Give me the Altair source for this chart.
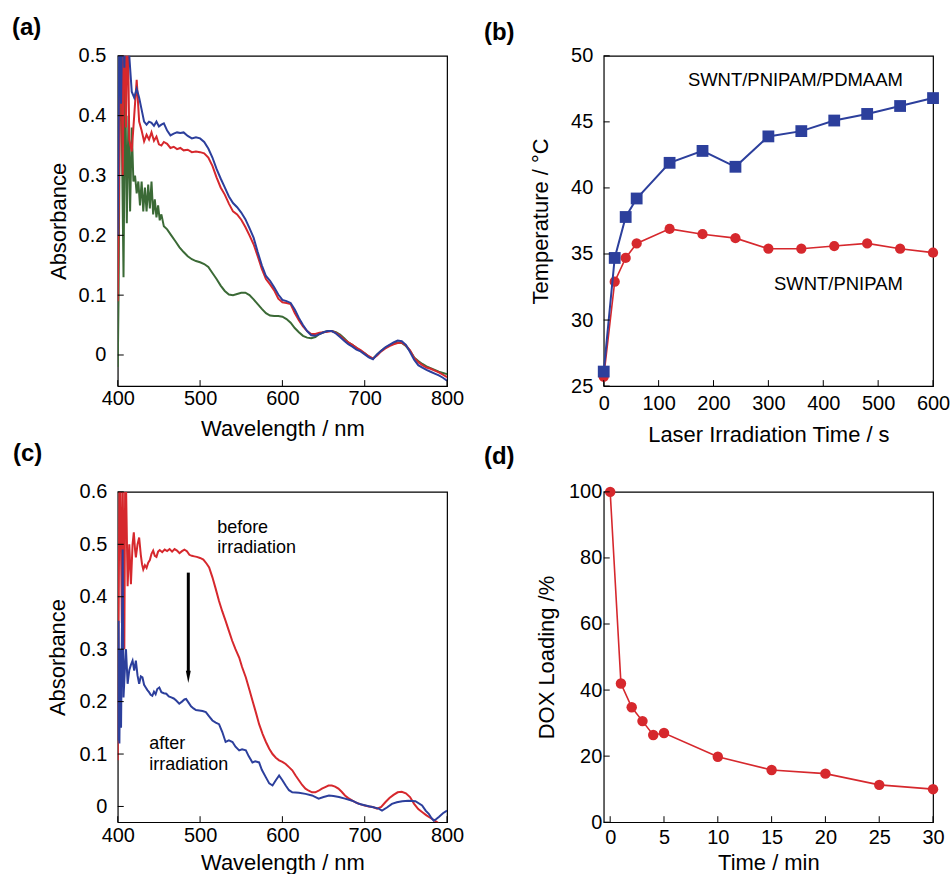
import altair as alt
import pandas as pd

FONT = "Liberation Sans"
RED = "#d6282d"
BLUE = "#2c3f9c"
GREEN = "#3b6a36"

# ---------------- panel (a) data ----------------
wl_a = [400, 402, 404, 406, 408, 410, 412, 414, 417, 420, 423, 426, 429, 432, 435, 438, 441, 444, 447, 450,
        453, 456, 460, 464, 468, 472, 476, 480, 485, 490, 495, 500, 505, 510, 515, 520, 525, 530, 535, 540,
        545, 550, 555, 560, 565, 570, 575, 580, 585, 590, 595, 600, 605, 610, 615, 620, 625, 630, 635, 640,
        645, 650, 655, 660, 665, 670, 675, 680, 685, 690, 695, 700, 705, 710, 715, 720, 725, 730, 735, 740,
        745, 750, 755, 760, 765, 770, 775, 780, 785, 790, 795, 800]
abs_a_blue = [0.20, 0.55, 0.42, 0.60, 0.48, 0.62, 0.55, 0.50, 0.44, 0.43, 0.445, 0.43, 0.41, 0.39, 0.385, 0.39,
              0.388, 0.383, 0.39, 0.382, 0.385, 0.387, 0.375, 0.367, 0.370, 0.372, 0.371, 0.372, 0.366, 0.362,
              0.364, 0.362, 0.356, 0.345, 0.330, 0.311, 0.295, 0.280, 0.265, 0.254, 0.247, 0.238, 0.227, 0.212,
              0.196, 0.172, 0.150, 0.132, 0.124, 0.113, 0.101, 0.092, 0.090, 0.087, 0.076, 0.062, 0.050, 0.040,
              0.033, 0.032, 0.035, 0.038, 0.040, 0.040, 0.036, 0.030, 0.024, 0.018, 0.014, 0.009, 0.006, 0.001,
              -0.004, -0.007, 0.001, 0.007, 0.013, 0.017, 0.021, 0.024, 0.023, 0.017, 0.005, -0.008, -0.017,
              -0.021, -0.025, -0.028, -0.031, -0.034, -0.038, -0.043]
abs_a_red = [0.09, 0.35, 0.62, 0.30, 0.60, 0.38, 0.58, 0.36, 0.34, 0.40, 0.46, 0.39, 0.375, 0.357, 0.368, 0.36,
             0.372, 0.358, 0.365, 0.352, 0.350, 0.356, 0.353, 0.346, 0.348, 0.344, 0.346, 0.342, 0.343, 0.339,
             0.340, 0.339, 0.337, 0.330, 0.316, 0.297, 0.280, 0.268, 0.253, 0.240, 0.235, 0.226, 0.214, 0.200,
             0.185, 0.165, 0.144, 0.127, 0.118, 0.108, 0.094, 0.088, 0.087, 0.085, 0.070, 0.058, 0.048, 0.040,
             0.035, 0.035, 0.037, 0.038, 0.039, 0.040, 0.037, 0.032, 0.026, 0.021, 0.017, 0.012, 0.008, 0.003,
             -0.002, -0.006, -0.001, 0.006, 0.011, 0.015, 0.018, 0.020, 0.021, 0.016, 0.008, -0.005, -0.012,
             -0.017, -0.021, -0.023, -0.026, -0.029, -0.033, -0.037]
wl_a_green = [400, 401, 403, 405, 407, 409, 411, 413, 415, 417, 419, 421, 423, 425, 427, 429, 431, 433, 435, 437,
              439, 441, 443, 445, 447, 449, 451, 453, 456, 460, 465, 470, 475, 480, 485, 490, 495, 500, 505, 510,
              515, 520, 525, 530, 535, 540, 545, 550, 555, 560, 565, 570, 575, 580, 585, 590, 595, 600, 605, 610,
              615, 620, 625, 630, 635, 640, 645, 650, 655, 660, 665, 670, 675, 680, 685, 690, 695, 700, 705, 710,
              715, 720, 725, 730, 735, 740, 745, 750, 755, 760, 765, 770, 775, 780, 785, 790, 795, 800]
abs_a_green = [-0.02, 0.10, 0.55, 0.37, 0.13, 0.48, 0.22, 0.40, 0.24, 0.38, 0.29, 0.30, 0.27, 0.29, 0.25, 0.29,
               0.24, 0.28, 0.24, 0.285, 0.245, 0.29, 0.235, 0.26, 0.23, 0.25, 0.225, 0.235, 0.215, 0.21, 0.20,
               0.19, 0.18, 0.172, 0.165, 0.160, 0.157, 0.155, 0.152, 0.147, 0.137, 0.127, 0.116, 0.107, 0.101,
               0.100, 0.102, 0.104, 0.104, 0.100, 0.093, 0.085, 0.077, 0.070, 0.066, 0.065, 0.065, 0.064, 0.060,
               0.054, 0.045, 0.038, 0.032, 0.029, 0.028, 0.030, 0.035, 0.038, 0.040, 0.040, 0.038, 0.034, 0.028,
               0.021, 0.017, 0.012, 0.007, 0.003, -0.003, -0.006, 0.001, 0.007, 0.012, 0.016, 0.019, 0.021,
               0.020, 0.015, 0.007, -0.004, -0.010, -0.015, -0.019, -0.022, -0.025, -0.028, -0.030, -0.032]

# ---------------- panel (b) data ----------------
time_b = [0, 20, 40, 60, 120, 180, 240, 300, 360, 420, 480, 540, 600]
temp_b_pdmaam = [26.1, 34.7, 37.8, 39.2, 41.9, 42.8, 41.6, 43.9, 44.3, 45.1, 45.6, 46.2, 46.8]
temp_b_pnipam = [25.7, 32.9, 34.7, 35.8, 36.9, 36.5, 36.2, 35.4, 35.4, 35.6, 35.8, 35.4, 35.1]
labels_b = ["SWNT/PNIPAM/PDMAAM", "SWNT/PNIPAM"]
labels_b_x = [545, 545]
labels_b_y = [48.2, 32.75]

# ---------------- panel (c) data ----------------
wl_c_red = [400, 402, 403, 405, 406, 408, 409, 410, 412, 414, 416, 418, 419.5, 421, 422, 424, 426, 428, 429.5,
            431, 433, 435, 437, 439, 441, 443, 445, 447, 449, 451, 454, 457, 460, 463, 466, 469, 472, 475, 478,
            481, 484, 487, 490, 493, 496, 500, 504, 508, 511, 515, 519, 523, 527, 531, 535, 539, 543, 547.5,
            551, 555.6, 560, 563.6, 568, 571.7, 576, 580, 584, 588, 592, 596, 600, 604, 608, 612, 616, 620,
            624, 628, 632, 636, 640, 644, 648, 652, 656, 660, 664, 668, 672, 676, 680, 685, 690, 695, 700, 705,
            710, 715, 720, 725, 730, 735, 740, 745, 750, 755, 760, 765, 770, 775, 780, 785, 790]
abs_c_red = [0.088, 0.60, 0.62, 0.35, 0.62, 0.30, 0.62, 0.62, 0.42, 0.50, 0.424, 0.50, 0.523, 0.49, 0.475, 0.50,
             0.513, 0.48, 0.462, 0.452, 0.46, 0.455, 0.465, 0.470, 0.482, 0.488, 0.478, 0.476, 0.486, 0.489,
             0.485, 0.490, 0.487, 0.491, 0.486, 0.491, 0.488, 0.483, 0.487, 0.490, 0.487, 0.480, 0.478, 0.477,
             0.476, 0.474, 0.471, 0.463, 0.456, 0.437, 0.415, 0.392, 0.372, 0.354, 0.335, 0.316, 0.300, 0.284,
             0.266, 0.246, 0.222, 0.202, 0.178, 0.157, 0.138, 0.123, 0.110, 0.100, 0.093, 0.088, 0.085, 0.081,
             0.075, 0.069, 0.059, 0.050, 0.041, 0.034, 0.030, 0.027, 0.027, 0.030, 0.034, 0.037, 0.040, 0.040,
             0.038, 0.034, 0.028, 0.021, 0.016, 0.011, 0.007, 0.004, 0.002, 0.000, -0.001, -0.004, -0.001, 0.008,
             0.016, 0.022, 0.027, 0.028, 0.025, 0.018, 0.005, -0.005, -0.011, -0.017, -0.022, -0.027, -0.032]
wl_c_blue = [400, 401, 402, 403, 404, 405, 406, 407, 409, 410, 412, 414, 416, 418, 420, 422, 424, 426, 428, 430,
             432, 434, 436, 438, 440, 442, 444, 446, 448, 450.5, 453, 456, 459, 462, 465, 468, 471, 474.7, 478,
             481, 483, 486, 489, 492, 495, 499, 503, 507, 511, 515, 519, 523, 527, 531, 535, 539.4, 543, 547.5,
             551, 555.6, 559, 563.6, 567, 571.7, 575, 579.8, 584, 588, 592, 596, 600, 604, 608, 612, 620, 628,
             636, 644, 650, 656.6, 662, 668.7, 676, 684.8, 692.9, 701, 709, 717, 721, 727, 733, 739, 745.5, 753,
             761.6, 769.7, 774, 777.8, 781, 783.8, 787, 790, 795, 800]
abs_c_blue = [0.126, 0.354, 0.12, 0.30, 0.15, 0.32, 0.49, 0.208, 0.272, 0.30, 0.234, 0.26, 0.27, 0.278, 0.259,
              0.278, 0.25, 0.234, 0.248, 0.246, 0.232, 0.227, 0.222, 0.218, 0.213, 0.211, 0.219, 0.214, 0.224,
              0.227, 0.218, 0.216, 0.215, 0.210, 0.208, 0.206, 0.202, 0.196, 0.200, 0.204, 0.205, 0.198, 0.191,
              0.187, 0.184, 0.183, 0.182, 0.180, 0.172, 0.164, 0.160, 0.157, 0.142, 0.123, 0.126, 0.123, 0.114,
              0.107, 0.109, 0.107, 0.096, 0.084, 0.086, 0.084, 0.070, 0.056, 0.044, 0.040, 0.050, 0.059, 0.050,
              0.040, 0.031, 0.027, 0.026, 0.024, 0.021, 0.015, 0.018, 0.021, 0.020, 0.018, 0.015, 0.011, 0.005,
              0.002, -0.001, -0.004, -0.008, -0.002, 0.005, 0.008, 0.010, 0.011, 0.010, 0.002, -0.008, -0.014,
              -0.022, -0.027, -0.024, -0.020, -0.013, -0.008]
labels_c = ["before", "irradiation", "after", "irradiation"]
labels_c_x = [520.8, 520.8, 438.4, 438.4]
labels_c_y = [0.531, 0.493, 0.120, 0.080]
arrow_c_x = [485.7]
arrow_c_y = [0.446]
arrow_c_y2 = [0.258]
arrow_c_tip = [0.247]

# ---------------- panel (d) data ----------------
time_d = [0, 1, 2, 3, 4, 5, 10, 15, 20, 25, 30]
dox_d = [100, 42.0, 34.8, 30.6, 26.4, 27.0, 19.8, 15.8, 14.7, 11.3, 10.0]

# ---------------- helpers ----------------
W = 330
H = 331
TICK = 6
LABEL_FS = 20
TITLE_FS = 22


def axis(title, values, lpad, tpad, fmt):
    return alt.Axis(title=title, values=values, format=fmt, domain=False, ticks=False, tickSize=0,
                    grid=False, labelPadding=lpad, titlePadding=tpad, labelFont=FONT, titleFont=FONT,
                    labelFontSize=LABEL_FS, titleFontSize=TITLE_FS, labelColor="black", titleColor="black",
                    titleFontWeight="normal", labelFlush=False, labelOverlap=False)


def tick_layers(X, Y, xvals, yvals):
    tx = alt.Chart(pd.DataFrame({"x": xvals})).mark_rule(color="black", strokeWidth=1).encode(
        x=X, y=alt.value(H), y2=alt.value(H - TICK))
    ty = alt.Chart(pd.DataFrame({"y": yvals})).mark_rule(color="black", strokeWidth=1).encode(
        y=Y, x=alt.value(0), x2=alt.value(TICK))
    return [tx, ty]


def panel_label(text, dx, dy):
    return alt.Chart(pd.DataFrame({"t": [text]})).mark_text(
        font=FONT, fontSize=24, fontWeight="bold", align="left", baseline="alphabetic", color="black"
    ).encode(text="t:N", x=alt.value(dx), y=alt.value(dy))


def spectrum(wl, ab, color, X, Y):
    return alt.Chart(pd.DataFrame({"x": wl, "y": ab})).mark_line(
        color=color, strokeWidth=2, clip=True).encode(x=X, y=Y)


# ---------------- panel (a) ----------------
xa_vals = [400, 500, 600, 700, 800]
ya_vals = [0, 0.1, 0.2, 0.3, 0.4, 0.5]
Xa = alt.X("x:Q", scale=alt.Scale(domain=[400, 800], nice=False, zero=False),
           axis=axis("Wavelength / nm", xa_vals, 2, 10, "d"))
Ya = alt.Y("y:Q", scale=alt.Scale(domain=[-0.052, 0.5], nice=False, zero=False),
           axis=axis("Absorbance", ya_vals, 12, 8, ".1~f"))
panel_a = alt.layer(
    spectrum(wl_a_green, abs_a_green, GREEN, Xa, Ya),
    spectrum(wl_a, abs_a_red, RED, Xa, Ya),
    spectrum(wl_a, abs_a_blue, BLUE, Xa, Ya),
    *tick_layers(Xa, Ya, xa_vals, ya_vals),
    panel_label("(a)", -106, -21),
).properties(width=W, height=H)

# ---------------- panel (b) ----------------
xb_vals = [0, 100, 200, 300, 400, 500, 600]
yb_vals = [25, 30, 35, 40, 45, 50]
Xb = alt.X("x:Q", scale=alt.Scale(domain=[0, 600], nice=False, zero=False),
           axis=axis("Laser Irradiation Time / s", xb_vals, 7, 12, "d"))
Yb = alt.Y("y:Q", scale=alt.Scale(domain=[25, 50], nice=False, zero=False),
           axis=axis("Temperature / °C", yb_vals, 11, 18, "d"))
df_b1 = pd.DataFrame({"x": time_b, "y": temp_b_pdmaam})
df_b2 = pd.DataFrame({"x": time_b, "y": temp_b_pnipam})
df_bt = pd.DataFrame({"x": labels_b_x, "y": labels_b_y, "t": labels_b})
panel_b = alt.layer(
    alt.Chart(df_b2).mark_line(color=RED, strokeWidth=1.6).encode(x=Xb, y=Yb),
    alt.Chart(df_b2).mark_circle(color=RED, size=105, opacity=1).encode(x=Xb, y=Yb),
    alt.Chart(df_b1).mark_line(color=BLUE, strokeWidth=2).encode(x=Xb, y=Yb),
    alt.Chart(df_b1).mark_square(color=BLUE, size=140, opacity=1).encode(x=Xb, y=Yb),
    alt.Chart(df_bt).mark_text(font=FONT, fontSize=18.5, align="right", baseline="middle", color="black").encode(
        x=Xb, y=Yb, text="t:N"),
    *tick_layers(Xb, Yb, xb_vals, yb_vals),
    panel_label("(b)", -120, -16),
).properties(width=W, height=H)

# ---------------- panel (c) ----------------
xc_vals = [400, 500, 600, 700, 800]
yc_vals = [0, 0.1, 0.2, 0.3, 0.4, 0.5, 0.6]
Xc = alt.X("x:Q", scale=alt.Scale(domain=[400, 800], nice=False, zero=False),
           axis=axis("Wavelength / nm", xc_vals, 3, 7, "d"))
Yc = alt.Y("y:Q", scale=alt.Scale(domain=[-0.03, 0.6], nice=False, zero=False),
           axis=axis("Absorbance", yc_vals, 11, 10, ".1~f"))
df_ct = pd.DataFrame({"x": labels_c_x, "y": labels_c_y, "t": labels_c})
df_arrow = pd.DataFrame({"x": arrow_c_x, "y": arrow_c_y, "y2": arrow_c_y2})
df_tip = pd.DataFrame({"x": arrow_c_x, "y": arrow_c_tip})
panel_c = alt.layer(
    spectrum(wl_c_red, abs_c_red, RED, Xc, Yc),
    spectrum(wl_c_blue, abs_c_blue, BLUE, Xc, Yc),
    alt.Chart(df_ct).mark_text(font=FONT, fontSize=18, align="left", baseline="middle", color="black").encode(
        x=Xc, y=Yc, text="t:N"),
    alt.Chart(df_arrow).mark_rule(color="black", strokeWidth=3).encode(x=Xc, y=Yc, y2="y2:Q"),
    alt.Chart(df_tip).mark_point(shape="M-0.4,-1L0.4,-1L0,1Z", filled=True, color="black", size=150,
                                 opacity=1, strokeWidth=0).encode(x=Xc, y=Yc),
    *tick_layers(Xc, Yc, xc_vals, yc_vals),
    panel_label("(c)", -105, -31),
).properties(width=W, height=H)

# ---------------- panel (d) ----------------
xd_vals = [0, 5, 10, 15, 20, 25, 30]
yd_vals = [0, 20, 40, 60, 80, 100]
Xd = alt.X("x:Q", scale=alt.Scale(domain=[-0.6, 30], nice=False, zero=False),
           axis=axis("Time / min", xd_vals, 5, 5, "d"))
Yd = alt.Y("y:Q", scale=alt.Scale(domain=[0, 100], nice=False, zero=False),
           axis=axis("DOX Loading /%", yd_vals, 2, 10, "d"))
df_d = pd.DataFrame({"x": time_d, "y": dox_d})
panel_d = alt.layer(
    alt.Chart(df_d).mark_line(color=RED, strokeWidth=1.6).encode(x=Xd, y=Yd),
    alt.Chart(df_d).mark_circle(color=RED, size=110, opacity=1).encode(x=Xd, y=Yd),
    *tick_layers(Xd, Yd, xd_vals, yd_vals),
    panel_label("(d)", -120, -28),
).properties(width=W, height=H)

chart = alt.concat(panel_a, panel_b, panel_c, panel_d, columns=2, bounds="flush",
                   spacing={"row": 106, "column": 157}).properties(
    padding={"left": 11, "top": 14, "right": 0, "bottom": 0}, background="white"
).configure_view(stroke="black", strokeWidth=1.2)

chart.save("out.html", embed_options={"renderer": "svg", "actions": False})
